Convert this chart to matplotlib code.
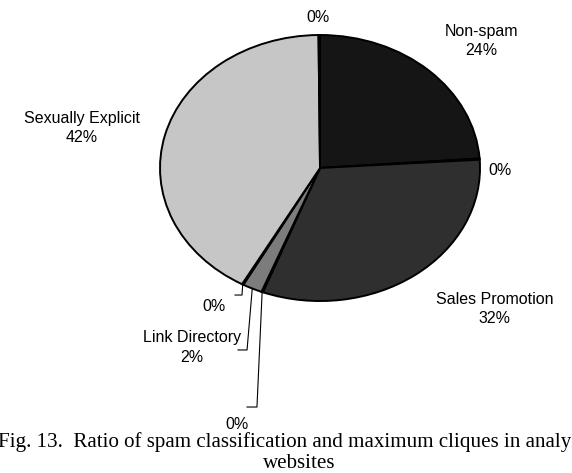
import numpy as np
import matplotlib
matplotlib.use('Agg')
import matplotlib.pyplot as plt

# data (clockwise from 12 o'clock); the unnamed slices are the tiny "0%" ones
categories = ["Non-spam", "", "Sales Promotion", "", "Link Directory", "", "Sexually Explicit", ""]
shares = [24, 0.15, 32, 0.15, 2, 0.15, 42, 0.15]
colors = ['#151515', '#ffffff', '#2f2f2f', '#ffffff', '#7c7c7c', '#ffffff', '#c6c6c6', '#ffffff']

# label layout in data units (pie radius = 1)
label_pos = [(1.01, 0.955), (1.05, -0.02), (1.09, -1.06), (-0.52, -1.93),
             (-0.80, -1.35), (-0.66, -1.04), (-1.49, 0.30), (-0.01, 1.13)]
label_ha = ['center', 'left', 'center', 'center', 'center', 'center', 'center', 'center']
# leader lines: elbow and end point for the small slices at the bottom
leaders = {3: [(-0.394, -1.797), (-0.456, -1.797)],
           4: [(-0.456, -1.368), (-0.5125, -1.368)],
           5: [(-0.4875, -0.955), (-0.531, -0.955)]}

plt.rcParams['font.family'] = ['Liberation Sans', 'DejaVu Sans']

fig = plt.figure(figsize=(5.72, 4.73), dpi=100)
ax = fig.add_axes([0.2098, 0.2933, 0.6993, 0.703])

wedges, _ = ax.pie(shares, colors=colors, startangle=90, counterclock=False,
                   wedgeprops=dict(edgecolor='black', linewidth=1.4))
ax.set_aspect('auto')
ax.set_xlim(-1.25, 1.25)
ax.set_ylim(-1.25, 1.25)

total = sum(shares)
for i, w in enumerate(wedges):
    pct = '%.0f%%' % (shares[i] / total * 100)
    text = categories[i] + '\n' + pct if categories[i] else pct
    x, y = label_pos[i]
    ax.text(x, y, text, ha=label_ha[i], va='center', fontsize=11.5,
            linespacing=1.35, clip_on=False)
    if i in leaders:
        ang = np.deg2rad((w.theta1 + w.theta2) / 2)
        pts = [(np.cos(ang), np.sin(ang))] + leaders[i]
        ax.plot([p[0] for p in pts], [p[1] for p in pts], color='black',
                linewidth=0.8, clip_on=False)

# caption (the first line runs past both edges, as in the source)
fig.text(299 / 572, 1 - 447 / 473,
         'Fig. 13.  Ratio of spam classification and maximum cliques in analyzed',
         ha='center', va='baseline', fontsize=15.1, family='Liberation Serif')
fig.text(299 / 572, 1 - 468 / 473, 'websites',
         ha='center', va='baseline', fontsize=15.1, family='Liberation Serif')

fig.savefig('out.png', dpi=100)
